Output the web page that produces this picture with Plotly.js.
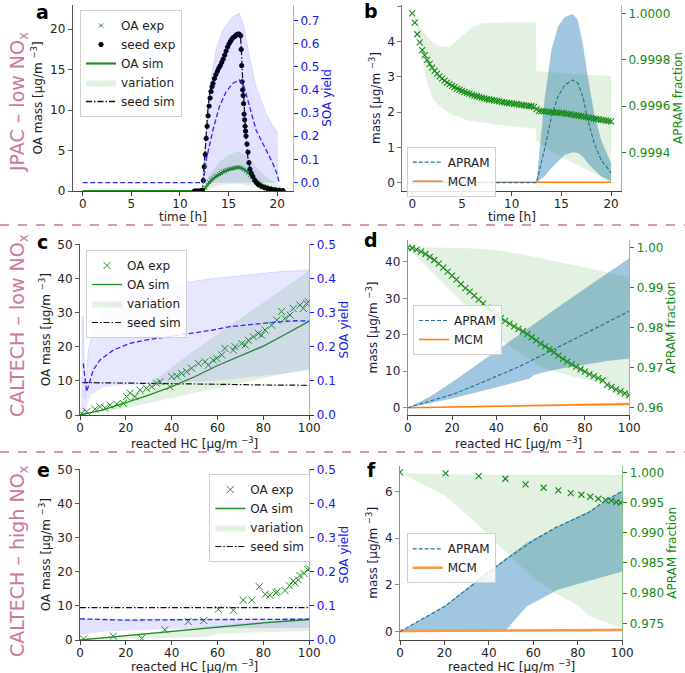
<!DOCTYPE html>
<html><head><meta charset="utf-8">
<script src="https://cdn.plot.ly/plotly-3.0.1.min.js"></script>
<style>body{margin:0;background:#fff}#plot{width:685px;height:673px}</style>
</head><body><div id="plot"></div>
<script>
// ---------- Panel a (JPAC low NOx, time axis) ----------
const a_seedExp_t = [11.5,11.7,11.9,12.1,12.3,12.4,12.5,12.6,12.7,12.8,12.9,13.0,13.1,13.2,13.3,13.4,13.55,13.7,13.85,14.0,14.15,14.3,14.45,14.6,14.75,14.9,15.05,15.2,15.35,15.5,15.65,15.8,15.95,16.1,16.25,16.3,16.35,16.4,16.45,16.5,16.55,16.6,16.65,16.7,16.75,16.8,16.9,17.0,17.1,17.2,17.35,17.5,17.7,17.9,18.1,18.4,18.7,19.0,19.4,19.8,20.2,20.6];
const a_seedExp_m = [0,0,0,0,0.1,1.3,3.0,4.5,6.5,8.0,9.3,10.5,11.5,12.3,12.9,13.3,13.9,14.4,14.8,15.2,15.5,15.9,16.3,16.8,17.3,17.8,18.2,18.5,18.8,19.0,19.1,19.3,19.4,19.4,19.2,17.5,15.5,13.5,12.5,11.8,10.8,9.5,8.8,8.0,7.4,6.8,5.8,4.8,3.5,2.7,2.2,1.8,1.3,1.0,0.75,0.55,0.4,0.3,0.22,0.15,0.1,0.05];
const a_seedSim_t = [0,12.2,12.35,12.5,12.7,12.9,13.1,13.3,13.6,14.0,14.5,15.0,15.5,15.9,16.2,16.3,16.4,16.6,16.8,17.0,17.3,17.7,18.2,19.0,20.0,20.6];
const a_seedSim_m = [0,0,0.5,3.5,7.5,10.5,12.3,13.4,14.4,15.4,16.6,17.8,18.8,19.2,19.3,18.0,15.0,10.0,6.5,4.0,2.3,1.2,0.6,0.3,0.15,0.1];
const a_oaSim_t = [0,12.3,12.5,12.8,13.0,13.5,14.0,14.5,15.0,15.5,16.0,16.5,17.0,17.5,18.0,18.5,19.0,19.5,20.0,20.6];
const a_oaSim_m = [0,0,0.2,0.7,1.0,1.6,2.0,2.35,2.6,2.8,2.9,2.75,2.3,1.7,1.15,0.75,0.5,0.32,0.2,0.12];
const a_oaExp_t = [12.4,12.6,12.8,13.0,13.2,13.4,13.6,13.8,14.0,14.2,14.4,14.6,14.8,15.0,15.2,15.4,15.6,15.8,16.0,16.2,16.4,16.6,16.8,17.0,17.2,17.4,17.6,17.8,18.0,18.3,18.6,18.9,19.2,19.5,19.8,20.1,20.4];
const a_oaExp_m = [0.1,0.4,0.8,1.1,1.4,1.6,1.8,1.95,2.1,2.25,2.4,2.5,2.6,2.7,2.75,2.8,2.85,2.9,2.95,2.9,2.8,2.65,2.45,2.2,1.95,1.7,1.45,1.25,1.05,0.8,0.6,0.45,0.35,0.25,0.18,0.12,0.08];
const a_var_t = [12.3,13,14,15,16,17,18,19,20,20.6];
const a_var_up = [0,2.0,3.5,4.5,4.9,4.3,2.8,1.6,0.9,0.5];
const a_var_lo = [0,0.3,0.6,0.8,0.9,0.7,0.4,0.2,0.1,0.05];
const a_yield_t = [0,12.4,12.7,13.4,14.06,14.75,15.43,16.1,16.6,17.15,17.83,18.7,19.55,19.96,20.2];
const a_yield = [0,0,0.098,0.227,0.328,0.392,0.428,0.443,0.414,0.328,0.227,0.155,0.084,0.04,0.004];
const a_yband_t = [12.3,13.03,13.7,14.4,15.43,16.1,16.6,17.15,17.83,18.86,19.5,20.0,20.05];
const a_yband_up = [0,0.40,0.572,0.658,0.716,0.73,0.672,0.543,0.414,0.299,0.25,0.22,0];

// ---------- Panel b ----------
const b_frac_t = [0,0.25,0.5,0.75,1,1.25,1.5,1.75,2,2.25,2.5,2.75,3,3.25,3.5,3.75,4,4.25,4.5,4.75,5,5.25,5.5,5.75,6,6.25,6.5,6.75,7,7.25,7.5,7.75,8,8.25,8.5,8.75,9,9.25,9.5,9.75,10,10.25,10.5,10.75,11,11.25,11.5,11.75,12,12.25,12.5,12.75,13,13.25,13.5,13.75,14,14.25,14.5,14.75,15,15.25,15.5,15.75,16,16.25,16.5,16.75,17,17.25,17.5,17.75,18,18.25,18.5,18.75,19,19.25,19.5,19.75,20];
const b_frac = [1.0,0.99996,0.99991,0.999875,0.999842,0.99982,0.9998,0.999782,0.999766,0.999752,0.99974,0.999729,0.999719,0.99971,0.999702,0.999695,0.999688,0.999682,0.999676,0.999671,0.999666,0.999662,0.999658,0.999654,0.99965,0.999646,0.999643,0.99964,0.999637,0.999634,0.999632,0.999629,0.999627,0.999625,0.999623,0.999621,0.999619,0.999617,0.999615,0.999613,0.999612,0.99961,0.999609,0.999607,0.999606,0.999604,0.999603,0.999601,0.9996,0.999597,0.999588,0.99958,0.999579,0.999578,0.999577,0.999576,0.999575,0.999574,0.999573,0.999571,0.99957,0.999569,0.999568,0.999566,0.999565,0.999563,0.999561,0.999559,0.999557,0.999555,0.999553,0.999551,0.999549,0.999547,0.999545,0.999543,0.999541,0.99954,0.999538,0.999536,0.999535];
const b_fband_t = [0,0.5,0.83,1.0,1.5,2.16,3.0,3.8,5.0,5.5,6.0,7.0,8.0,8.8,10,12.2,12.45,12.5,14,16,18,20];
const b_fband_up = [1.0,0.99997,0.99994,0.99993,0.9999,0.99987,0.999856,0.999856,0.9999,0.99992,0.99994,0.999957,0.999961,0.999961,0.999961,0.999961,0.999961,0.999751,0.999746,0.99974,0.999735,0.99973];
const b_fband_lo = [1.0,0.99994,0.999856,0.9998,0.999698,0.999626,0.999592,0.999569,0.999548,0.99954,0.999536,0.999529,0.999523,0.999519,0.999514,0.999504,0.999503,0.99945,0.999405,0.99936,0.999318,0.999275];
const b_apram_t = [0,12.5,13.3,14,14.66,15.33,16.16,16.66,17.16,17.66,18.3,19,19.66,20];
const b_apram = [0,0,0.93,1.87,2.44,2.77,2.91,2.82,2.44,1.78,1.12,0.64,0.41,0.27];
const b_aband_t = [12.5,13.3,14,14.66,15.33,16.16,16.66,17.16,17.66,18.3,19,19.66,20];
const b_aband_up = [0,2.34,3.76,4.42,4.70,4.78,4.61,3.95,3.0,1.97,1.21,0.74,0.55];
const b_aband_lo = [0,0.17,0.41,0.59,0.78,0.86,0.84,0.74,0.55,0.36,0.17,0.08,0.03];
const b_mcm_t = [0,5,10,15,20];
const b_mcm = [0.005,0.005,0.005,0.01,0.01];

// ---------- Panel c ----------
const c_oaExp_x = [0.7,2.9,6.5,8.7,10.9,13.1,16,18.9,20.3,21.8,24,26.2,29,31.3,33.4,34.9,39.2,40,42.2,44.3,46.5,48.7,51.6,54.5,56,58.1,59.6,61.8,63.2,66.9,67.6,70.5,72,73.4,75.6,77.8,79.2,80.7,83.6,85.8,87.9,89.4,91.6,93,95.9,97.4,98.8,99.6];
const c_oaExp_m = [0.5,0.98,1.7,2.44,2.1,2.9,3.2,3.4,5.4,6.4,5.4,7.3,7.8,8.3,9.3,9.7,8.3,11.2,11.4,12.2,12.7,13.7,15.1,15.6,14.6,16.1,16.6,17.6,19.5,19.0,20.0,20.9,20.5,21.9,22.9,23.9,23.4,24.9,26.3,27.8,30.3,28.3,29.3,31.2,32.2,31.2,32.7,33.2];
const c_oaSim_x = [0,10,20,30,40,50,60,70,80,90,100];
const c_oaSim_m = [0,1.5,3.6,5.8,8.3,11.2,14.5,17.3,20.2,23.8,27.5];
const c_var_x = [0,10,20,30,40,50,60,70,80,90,100];
const c_var_up = [0,1.5,4.5,9,14,19,23.7,28.4,33,37.7,42.3];
const c_var_lo = [0,1.0,2.0,3.5,5.0,6.5,8.0,9.4,10.8,12.2,13.5];
const c_yband_x = [0.8,1.0,1.5,2.2,3.0,3.6,5,7.3,10,14.5,20,29,43.6,58.1,72.7,87.2,100];
const c_yband_up = [0,0.29,0.29,0.05,0.12,0.19,0.23,0.269,0.30,0.327,0.35,0.366,0.386,0.40,0.41,0.42,0.425];
const c_yband_lo = [0,0,0,0,0.02,0.04,0.06,0.07,0.08,0.085,0.088,0.09,0.095,0.1,0.11,0.12,0.13];
const c_yield_x = [1.45,2.9,5.8,8.7,14.5,21.8,29,43.6,58.1,65.4,72.7,80,87.2,94.5,100];
const c_yield = [0.151,0.068,0.132,0.161,0.19,0.21,0.22,0.234,0.249,0.259,0.264,0.269,0.273,0.276,0.275];
const c_seed_x = [1,20,40,60,80,100];
const c_seed_m = [9.5,9.4,9.2,9.0,8.8,8.7];

// ---------- Panel d ----------
const d_frac_x = [0,2,4,6,8,10,12,14,16,18,20,22,24,26,28,30,32,34,36,38,40,42,44,46,48,50,52,54,56,58,60,62,64,66,68,70,72,74,76,78,80,82,84,86,88,90,92,94,96,98,100];
const d_frac = [1.0,0.9999,0.9995,0.9990,0.9984,0.9977,0.9969,0.9960,0.9950,0.9940,0.9930,0.9920,0.9909,0.9899,0.9890,0.9880,0.9870,0.9860,0.9850,0.9841,0.9831,0.9824,0.9817,0.9810,0.9803,0.9797,0.9791,0.9784,0.9776,0.9768,0.9760,0.9753,0.9746,0.9738,0.9730,0.9722,0.9715,0.9708,0.9702,0.9696,0.9690,0.9684,0.9679,0.9674,0.9668,0.9657,0.9652,0.9646,0.9641,0.9636,0.9632];
const d_fband_x = [0,10,20,30,40,50,60,70,80,90,95,100];
const d_fband_up = [1.0,1.0,0.99995,0.9998,0.9994,0.9985,0.9974,0.9962,0.9950,0.9937,0.9931,0.9925];
const d_fband_lo = [1.0,0.9945,0.989,0.9833,0.9775,0.974,0.9702,0.9685,0.967,0.966,0.9625,0.962];
const d_apram_x = [0,10,20,30,40,50,60,70,80,90,100];
const d_apram = [0,1.7,3.6,6.0,8.6,11.2,14.2,17.2,20.3,23.4,26.5];
const d_aband_x = [0,10,20,30,40,50,55,57,60,70,80,90,100];
const d_aband_up = [0,3.0,7.0,11.3,15.7,20.0,22.2,23.0,24.3,28.5,32.7,36.9,41.0];
const d_aband_lo = [0,1.2,2.5,4.0,5.6,7.3,8.0,9.0,9.5,10.8,11.9,12.8,13.5];
const d_mcm_x = [0,20,40,60,80,100];
const d_mcm = [0,0.2,0.4,0.6,0.8,1.0];
const d_mband_up = [0,0.3,0.6,0.9,1.2,1.5];
const d_mband_lo = [0,0.1,0.2,0.3,0.45,0.6];

// ---------- Panel e ----------
const e_oaExp_x = [1.5,14.5,26.9,37,47.2,54,60.3,66.9,71.2,74.9,78.2,80.8,82.8,85.5,86,89.4,91.3,93,93.8,95.2,95.9,97.7,99.3,100];
const e_oaExp_m = [0.3,1.1,0.5,3.0,5.4,5.7,9.0,8.7,11.7,11.7,15.6,13.4,13.1,13.8,14.2,14.5,15.9,17.3,16.7,17.6,18.9,19.5,20.6,20.9];
const e_oaSim_x = [0,20,40,60,80,100];
const e_oaSim_m = [0,1.3,2.6,3.9,5.0,6.0];
const e_var_x = [0,20,40,55,58,60,80,100];
const e_var_up = [0,1.4,2.8,4.0,4.2,4.3,5.5,6.5];
const e_var_lo = [0,0.3,0.6,0.9,1.3,1.8,2.3,2.6];
const e_yield_x = [0,10,20,30,50,70,100];
const e_yield = [0.062,0.059,0.058,0.059,0.06,0.061,0.061];
const e_yband_x = [0,10,30,60,100];
const e_yband_up = [0.062,0.062,0.062,0.062,0.062];
const e_yband_lo = [0.015,0.025,0.03,0.035,0.035];
const e_seed_x = [0,100];
const e_seed_m = [9.5,9.5];

// ---------- Panel f ----------
const f_frac_x = [0,20.5,35.4,47.4,56.5,64.6,71.2,76.8,81.6,85.6,89.2,92.4,95.1,97.3,99.3];
const f_frac = [1.0,0.99983,0.99939,0.99894,0.99801,0.99745,0.99702,0.99657,0.99629,0.99596,0.99563,0.99541,0.9953,0.99508,0.99497];
const f_fband_x = [0,10,20,30,40,50,60,70,80,85,90,100];
const f_fband_up = [0.9999,0.99975,0.9997,0.99965,0.99962,0.9996,0.9996,0.9996,0.99958,0.99957,0.99956,0.99955];
const f_fband_lo = [1.0,0.998,0.9962,0.993,0.9895,0.986,0.9825,0.98,0.978,0.9762,0.9755,0.9742];
const f_apram_x = [0,20,30,40,50,60,70,80,85,90,95,100];
const f_apram = [0,1.07,1.8,2.55,3.25,3.9,4.45,4.9,5.1,5.45,5.75,6.0];
const f_aband_x = [0,20,40,47,57,71,86,100];
const f_aband_up = [0,1.1,2.6,3.1,3.8,4.5,5.2,6.05];
const f_aband_lo = [0,0,0,0,1.07,1.79,2.2,2.57];
const f_mcm_x = [0,20,40,60,80,100];
const f_mcm = [0.03,0.03,0.04,0.05,0.06,0.07];
const f_mband_up = [0.06,0.07,0.08,0.1,0.12,0.13];
const f_mband_lo = [0,0,0.01,0.02,0.02,0.03];

// ---------- styles ----------
const F = 'DejaVu Sans, sans-serif';
const BLUE = '#1515f0', GREEN = '#138a13', OAG = '#1f8f1f';
const LAV = 'rgba(40,40,255,0.13)', LAVL = 'rgba(40,40,255,0.2)';
const GRF = 'rgba(40,150,40,0.13)';
const APF = 'rgba(31,119,180,0.42)', APC = '#23759f';
const ORG = '#ff7f0e', ORF = 'rgba(255,127,14,0.35)';
const DARK = '#222';
const NAVY = '#1b1b45';
const DASH = '5px,2.5px', SDASH = '4px,2px', DDOT = '6px,2px,1.5px,2px';
const MASS = 'OA mass [µg/m <sup>−3</sup>]';
const MASS2 = 'mass [µg/m <sup>−3</sup>]';
const HC = 'reacted HC [µg/m <sup>−3</sup>]';

const traces = [];
function band(x, lo, up, xa, ya, color, legend, name, show, rank, lineColor) {
  traces.push({x: x, y: lo, xaxis: xa, yaxis: ya, mode: 'lines', line: {width: 0, color: color}, showlegend: false, hoverinfo: 'skip'});
  traces.push({x: x, y: up, xaxis: xa, yaxis: ya, mode: 'lines', fill: 'tonexty', fillcolor: color,
    line: {width: lineColor ? 0.6 : 0, color: lineColor || color}, name: name, showlegend: !!show, legend: legend, legendrank: rank || 1000});
}
function line(x, y, xa, ya, color, width, dash, name, legend, show, rank) {
  traces.push({x: x, y: y, xaxis: xa, yaxis: ya, mode: 'lines', line: {color: color, width: width, dash: dash || 'solid'},
    name: name, showlegend: !!show, legend: legend, legendrank: rank || 1000});
}
function marks(x, y, xa, ya, color, size, sym, name, legend, show, rank, lw) {
  traces.push({x: x, y: y, xaxis: xa, yaxis: ya, mode: 'markers',
    marker: {symbol: sym, size: size, color: color, line: {color: color, width: lw || 1}},
    name: name, showlegend: !!show, legend: legend, legendrank: rank || 1000});
}

// Panel a
band(a_var_t, a_var_lo, a_var_up, 'x', 'y', GRF, 'legend', 'variation', true, 4);
line(a_seedSim_t, a_seedSim_m, 'x', 'y', '#111', 1.3, DDOT, 'seed sim', 'legend', true, 5);
line(a_oaSim_t, a_oaSim_m, 'x', 'y', OAG, 2.2, 'solid', 'OA sim', 'legend', true, 3);
marks(a_oaExp_t, a_oaExp_m, 'x', 'y', OAG, 4, 'x-thin-open', 'OA exp', 'legend', true, 1, 1);
marks(a_seedExp_t, a_seedExp_m, 'x', 'y', '#000', 4.3, 'circle', 'seed exp', 'legend', true, 2);
traces.push({x: a_yband_t, y: a_yband_up, xaxis: 'x', yaxis: 'y7', mode: 'lines', fill: 'tozeroy', fillcolor: LAV, line: {width: 0.6, color: LAVL}, showlegend: false});
line(a_yield_t, a_yield, 'x', 'y7', '#2a2af0', 1.3, DASH, 'yield', 'legend', false);

// Panel b
band(b_aband_t, b_aband_lo, b_aband_up, 'x2', 'y2', APF, 'legend2', 'a', false);
line(b_mcm_t, b_mcm, 'x2', 'y2', ORG, 1.6, 'solid', 'MCM', 'legend2', true, 2);
line(b_apram_t, b_apram, 'x2', 'y2', APC, 1.2, SDASH, 'APRAM', 'legend2', true, 1);
band(b_fband_t, b_fband_lo, b_fband_up, 'x2', 'y8', GRF, 'legend2', 'f', false);
marks(b_frac_t, b_frac, 'x2', 'y8', GREEN, 6, 'x-thin-open', 'frac', 'legend2', false, 1000, 1.1);

// Panel c
traces.push({x: c_yband_x, y: c_yband_lo, xaxis: 'x3', yaxis: 'y9', mode: 'lines', line: {width: 0}, showlegend: false});
traces.push({x: c_yband_x, y: c_yband_up, xaxis: 'x3', yaxis: 'y9', mode: 'lines', fill: 'tonexty', fillcolor: 'rgba(40,40,255,0.11)', line: {width: 0.6, color: LAVL}, showlegend: false});
band(c_var_x, c_var_lo, c_var_up, 'x3', 'y3', GRF, 'legend3', 'variation', true, 3);
line(c_seed_x, c_seed_m, 'x3', 'y3', '#111', 1.2, DDOT, 'seed sim', 'legend3', true, 4);
line(c_oaSim_x, c_oaSim_m, 'x3', 'y3', OAG, 1.3, 'solid', 'OA sim', 'legend3', true, 2);
marks(c_oaExp_x, c_oaExp_m, 'x3', 'y3', OAG, 7, 'x-thin-open', 'OA exp', 'legend3', true, 1, 1);
line(c_yield_x, c_yield, 'x3', 'y9', '#2a2af0', 1.3, DASH, 'yield', 'legend3', false);

// Panel d
band(d_aband_x, d_aband_lo, d_aband_up, 'x4', 'y4', APF, 'legend4', 'a', false);
band(d_mcm_x, d_mband_lo, d_mband_up, 'x4', 'y4', ORF, 'legend4', 'm', false);
line(d_mcm_x, d_mcm, 'x4', 'y4', ORG, 1.6, 'solid', 'MCM', 'legend4', true, 2);
line(d_apram_x, d_apram, 'x4', 'y4', APC, 1.2, SDASH, 'APRAM', 'legend4', true, 1);
band(d_fband_x, d_fband_lo, d_fband_up, 'x4', 'y10', GRF, 'legend4', 'f', false);
marks(d_frac_x, d_frac, 'x4', 'y10', GREEN, 6, 'x-thin-open', 'frac', 'legend4', false, 1000, 1.1);

// Panel e
band(e_var_x, e_var_lo, e_var_up, 'x5', 'y5', GRF, 'legend5', 'variation', true, 3);
line(e_seed_x, e_seed_m, 'x5', 'y5', '#111', 1.2, DDOT, 'seed sim', 'legend5', true, 4);
line(e_oaSim_x, e_oaSim_m, 'x5', 'y5', OAG, 1.3, 'solid', 'OA sim', 'legend5', true, 2);
marks(e_oaExp_x, e_oaExp_m, 'x5', 'y5', OAG, 7, 'x-thin-open', 'OA exp', 'legend5', true, 1, 1);
traces.push({x: e_yband_x, y: e_yband_lo, xaxis: 'x5', yaxis: 'y11', mode: 'lines', line: {width: 0}, showlegend: false});
traces.push({x: e_yband_x, y: e_yband_up, xaxis: 'x5', yaxis: 'y11', mode: 'lines', fill: 'tonexty', fillcolor: LAV, line: {width: 0}, showlegend: false});
line(e_yield_x, e_yield, 'x5', 'y11', '#2a2af0', 1.3, DASH, 'yield', 'legend5', false);

// Panel f
band(f_aband_x, f_aband_lo, f_aband_up, 'x6', 'y6', APF, 'legend6', 'a', false);
band(f_mcm_x, f_mband_lo, f_mband_up, 'x6', 'y6', ORF, 'legend6', 'm', false);
line(f_mcm_x, f_mcm, 'x6', 'y6', '#f59a4a', 2.6, 'solid', 'MCM', 'legend6', true, 2);
line(f_apram_x, f_apram, 'x6', 'y6', APC, 1.2, SDASH, 'APRAM', 'legend6', true, 1);
band(f_fband_x, f_fband_lo, f_fband_up, 'x6', 'y12', GRF, 'legend6', 'f', false);
marks(f_frac_x, f_frac, 'x6', 'y12', GREEN, 6, 'x-thin-open', 'frac', 'legend6', false, 1000, 1.1);

// ---------- axes ----------
const tf = (c) => ({family: F, size: 12, color: c});
function xAx(dom, anchor, range, dtick) {
  return {domain: dom, anchor: anchor, range: range, dtick: dtick, tick0: 0, showline: true, linecolor: '#444', linewidth: 1,
    ticks: 'outside', ticklen: 3.5, tickcolor: '#444', tickfont: tf(DARK), showgrid: false, zeroline: false, ticklabelstandoff: -2};
}
function yL(dom, anchor, range, dtick, title, col, lc) {
  return {domain: dom, anchor: anchor, range: range, dtick: dtick, tick0: 0, showline: true, linecolor: lc, linewidth: 1,
    ticks: 'outside', ticklen: 4, tickcolor: lc, tickfont: tf(col), showgrid: false, zeroline: false,
    title: {text: title, font: tf(col), standoff: 4}};
}
function yR(over, anchor, range, dtick, fmt, title, col, lc) {
  return {overlaying: over, anchor: anchor, side: 'right', range: range, dtick: dtick, tick0: 0, tickformat: fmt,
    showline: true, linecolor: lc, linewidth: 1, ticks: 'outside', ticklen: 4, tickcolor: col, tickfont: tf(col),
    showgrid: false, zeroline: false, title: {text: title, font: tf(col), standoff: 4}};
}
const H = 673, W = 685;
const py = (p) => 1 - p / H, px = (p) => p / W;

const RB = 'rgba(60,60,255,0.45)', RG = 'rgba(30,140,30,0.5)';
const layout = {
  width: W, height: H, margin: {l: 0, r: 0, t: 0, b: 0}, paper_bgcolor: '#fff', plot_bgcolor: 'rgba(0,0,0,0)',
  font: {family: F, size: 12, color: DARK}, showlegend: true,
  xaxis: xAx([px(72.7), px(293)], 'y', [-1.03, 21.63], 5),
  yaxis: yL([py(191), py(5)], 'x', [0, 23], 5, MASS, DARK, '#555'),
  yaxis7: yR('y', 'x', [-0.036, 0.766], 0.1, '.1f', 'SOA yield', BLUE, RB),
  xaxis2: xAx([px(402.3), px(621)], 'y2', [-1, 21], 5),
  yaxis2: yL([py(191), py(5)], 'x2', [-0.24, 5.04], 1, MASS2, NAVY, '#777'),
  yaxis8: yR('y2', 'x2', [0.999235, 1.000036], 0.0002, '.4f', 'APRAM fraction', GREEN, RG),
  xaxis3: xAx([px(80), px(309.3)], 'y3', [0, 100], 20),
  yaxis3: yL([py(415), py(244.3)], 'x3', [0, 50], 10, MASS, DARK, '#555'),
  yaxis9: yR('y3', 'x3', [0, 0.5], 0.1, '.1f', 'SOA yield', BLUE, RB),
  xaxis4: xAx([px(407.7), px(629.3)], 'y4', [0, 100], 20),
  yaxis4: yL([py(415), py(240)], 'x4', [-2, 46], 10, MASS2, NAVY, '#8a8ab0'),
  yaxis10: yR('y4', 'x4', [0.95817, 1.0019], 0.01, '.2f', 'APRAM fraction', GREEN, RG),
  xaxis5: xAx([px(80), px(309.3)], 'y5', [0, 100], 20),
  yaxis5: yL([py(640), py(469.3)], 'x5', [0, 50], 10, MASS, DARK, '#555'),
  yaxis11: yR('y5', 'x5', [0, 0.5], 0.1, '.1f', 'SOA yield', BLUE, RB),
  xaxis6: xAx([px(400), px(622.3)], 'y6', [0, 100], 20),
  yaxis6: yL([py(640), py(465.7)], 'x6', [-0.36, 7.1], 2, MASS2, NAVY, '#8a8ab0'),
  yaxis12: yR('y6', 'x6', [0.97224, 1.0011], 0.005, '.3f', 'APRAM fraction', GREEN, RG),
  shapes: [
    {type: 'line', xref: 'paper', yref: 'paper', x0: 0, x1: 1, y0: py(225), y1: py(225), line: {color: '#c9799f', width: 1.4, dash: 'dash'}},
    {type: 'line', xref: 'paper', yref: 'paper', x0: 0, x1: 1, y0: py(452), y1: py(452), line: {color: '#c9799f', width: 1.4, dash: 'dash'}}
  ],
  annotations: []
};
const legBase = {bgcolor: 'rgba(255,255,255,0.85)', bordercolor: '#d0d0d0', borderwidth: 1, font: {family: F, size: 12, color: DARK},
  xanchor: 'left', yanchor: 'top', traceorder: 'normal', tracegroupgap: 0, itemwidth: 30};
layout.legend = Object.assign({}, legBase, {x: px(80), y: py(10)});
layout.legend2 = Object.assign({}, legBase, {x: px(406.7), y: py(146.7)});
layout.legend3 = Object.assign({}, legBase, {x: px(86), y: py(250)});
layout.legend4 = Object.assign({}, legBase, {x: px(413), y: py(305)});
layout.legend5 = Object.assign({}, legBase, {x: px(209.3), y: py(474)});
layout.legend6 = Object.assign({}, legBase, {x: px(406.7), y: py(533.3)});

// x-axis titles as annotations (exact placement)
const xTitles = [['time [h]', 183, 217], ['time [h]', 511.6, 217], [HC, 194.7, 443], [HC, 518.5, 443], [HC, 194.7, 666], [HC, 511.2, 666]];
xTitles.forEach(t => layout.annotations.push({text: t[0], xref: 'paper', yref: 'paper', x: px(t[1]), y: py(t[2]),
  showarrow: false, xanchor: 'center', yanchor: 'middle', font: tf(DARK)}));

const rowLab = [['JPAC – low NO<sub>x</sub>', 102], ['CALTECH – low NO<sub>x</sub>', 326], ['CALTECH – high NO<sub>x</sub>', 561]];
rowLab.forEach(r => layout.annotations.push({text: r[0], xref: 'paper', yref: 'paper', x: px(18), y: py(r[1]), textangle: -90,
  showarrow: false, xanchor: 'center', yanchor: 'middle', font: {family: F, size: 19, color: '#c9799f'}}));
const letters = [['a', 42, 12], ['b', 371, 11], ['c', 42, 242], ['d', 371, 240], ['e', 43, 470], ['f', 371, 470]];
letters.forEach(l => layout.annotations.push({text: '<b>' + l[0] + '</b>', xref: 'paper', yref: 'paper', x: px(l[1]), y: py(l[2]),
  showarrow: false, xanchor: 'center', yanchor: 'middle', font: {family: F, size: 19, color: '#000'}}));

Plotly.newPlot('plot', traces, layout, {staticPlot: true, displayModeBar: false});
</script></body></html>
